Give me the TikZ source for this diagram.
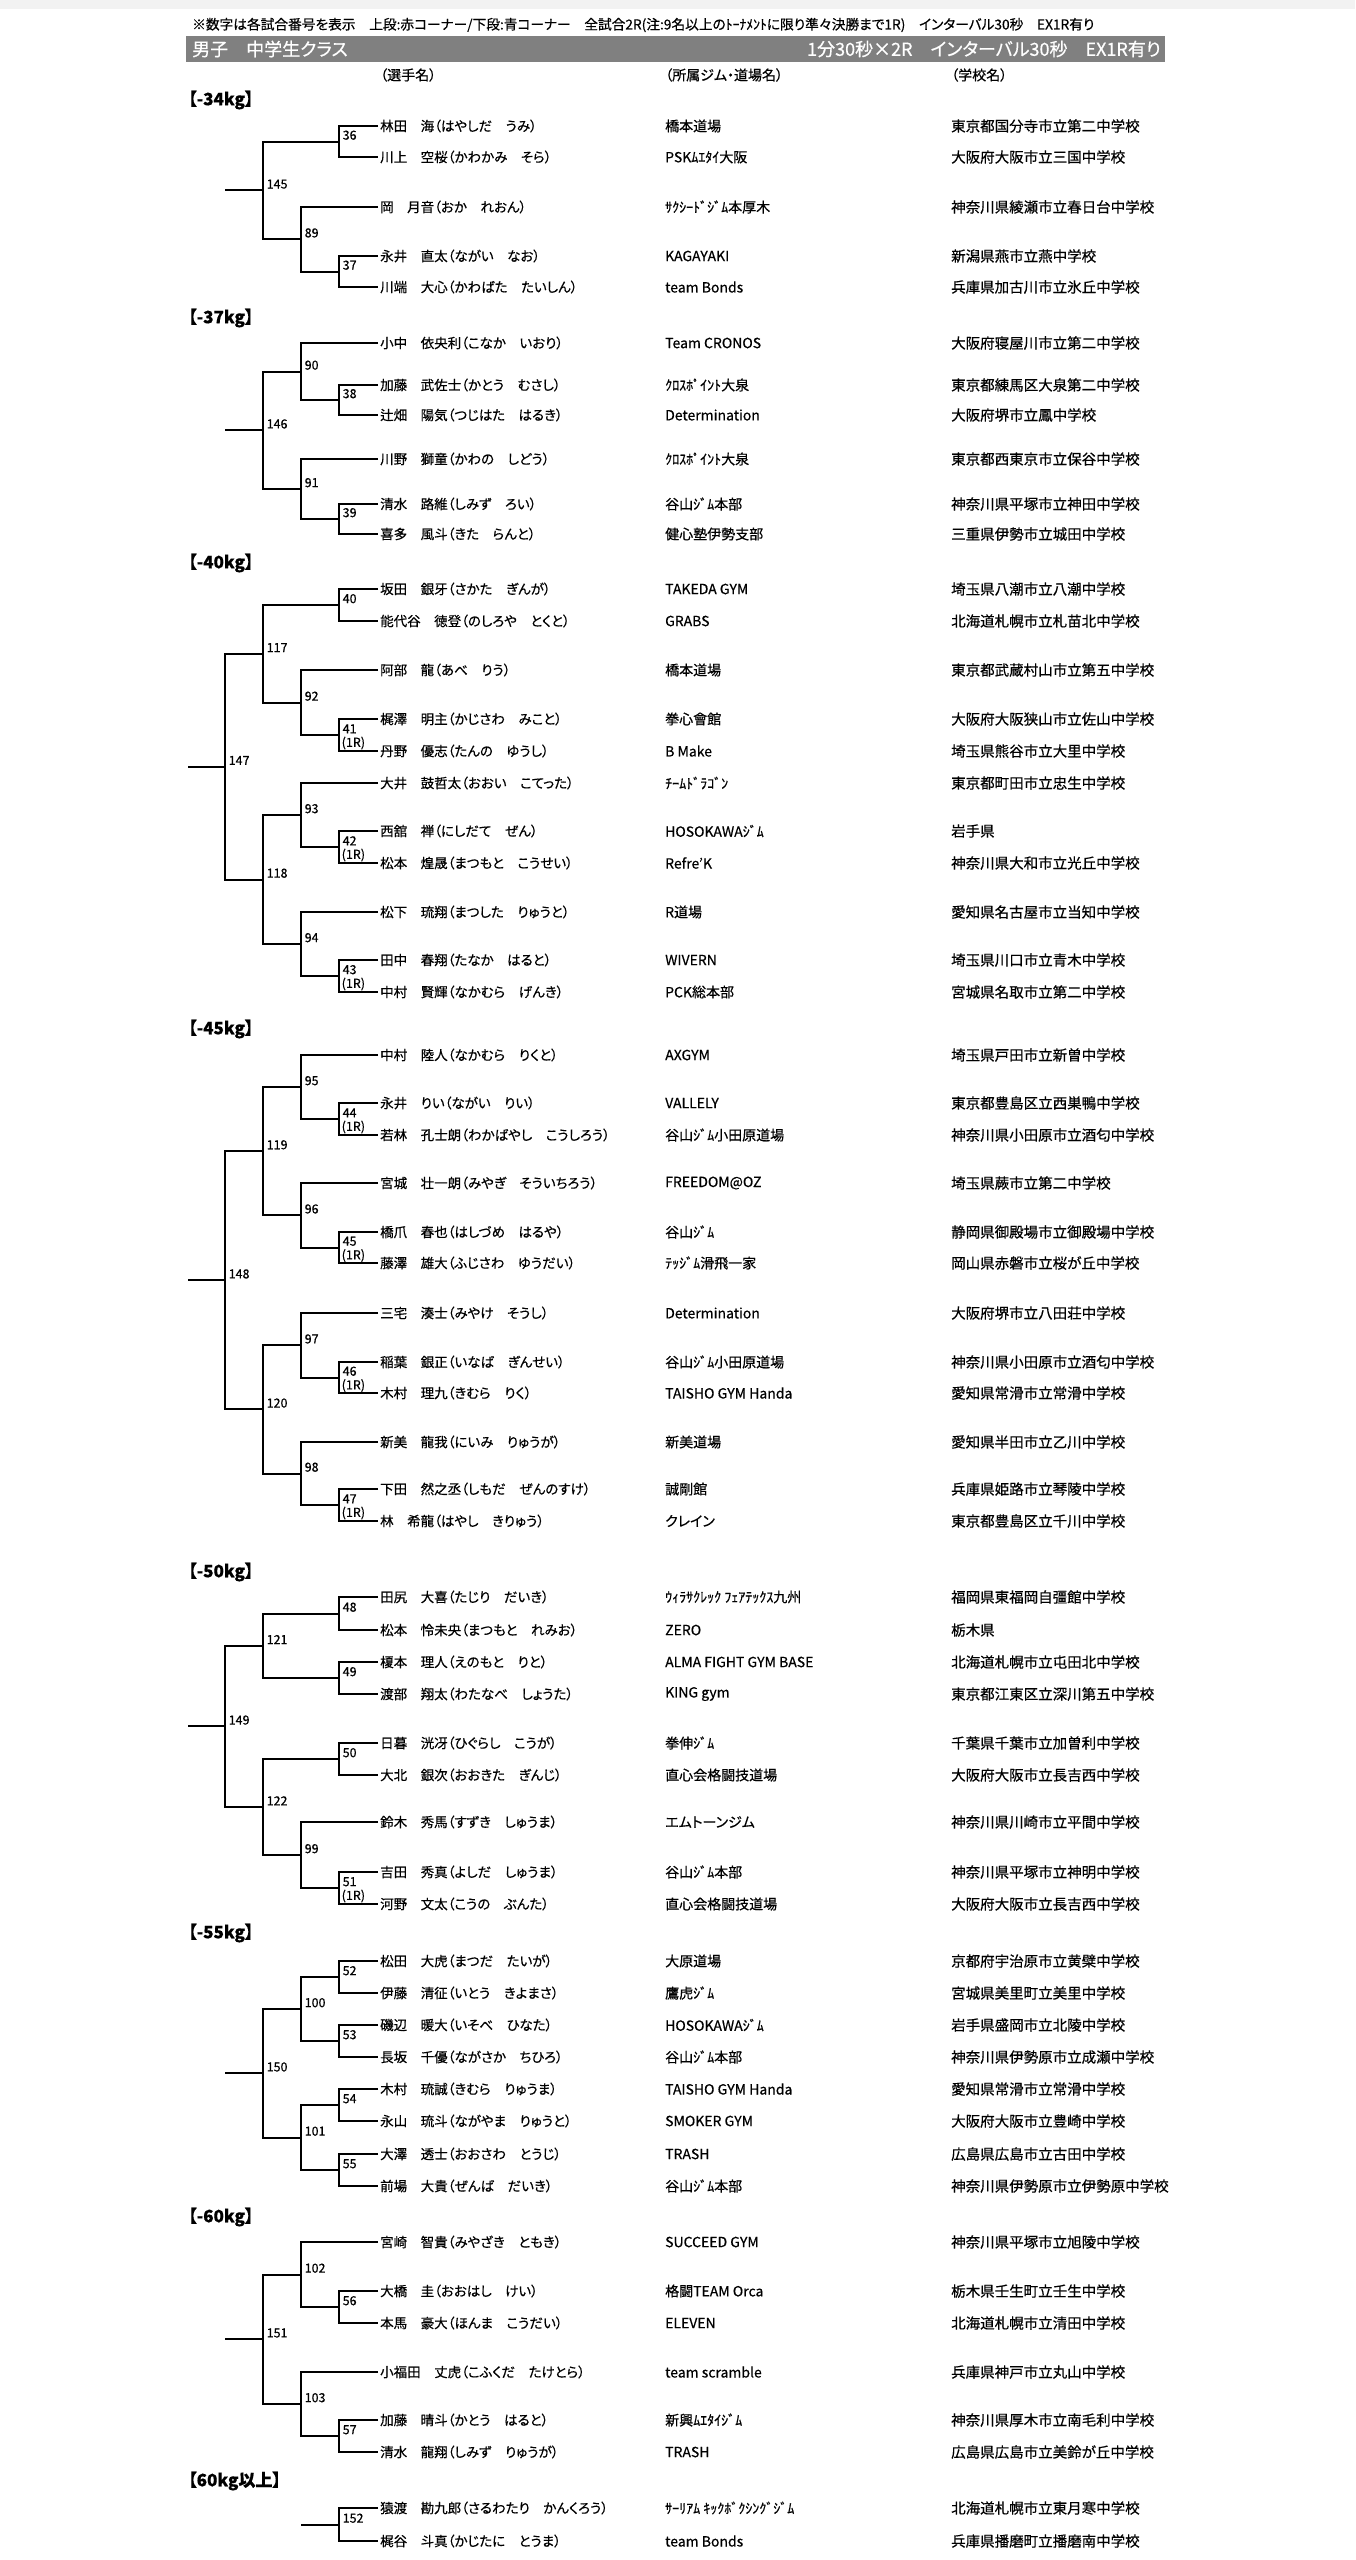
\documentclass[tikz,border=0pt]{standalone}
\usepackage{fontspec}
\setmainfont[RawFeature=+palt, FakeBold=0.5]{Noto Sans CJK JP}
\usetikzlibrary{calc}

% one row: player, gym, school
\newcommand{\entrant}[5]{%
  \node[player] (#1) at (378,#2) {#3};
  \node[gym] (#1g) at (665,#2) {#4};
  \node[school] (#1s) at (951,#2) {#5};
}
% one bout: id, top, bottom, level, number
\newcommand{\bout}[5]{%
  \path (#2) -- coordinate[midway] (#1c) (#3);
  \coordinate (#1) at (#1c -| #4);
  \draw[bracket] (#2) -| (#1) |- (#3);
  \node[boutno] (#1n) at (#1) {#5};
}
\newcommand{\oneR}[1]{\node[roundtag] (#1r) at (#1) {(1R)};}

\begin{document}
\begin{tikzpicture}[
x=1pt, y=-1pt,
player/.style={anchor=west, inner xsep=2pt, inner ysep=0pt, font=\fontsize{13.5}{15}\selectfont},
gym/.style={anchor=west, inner sep=0pt, font=\fontsize{14}{16}\selectfont},
school/.style={anchor=west, inner sep=0pt, font=\fontsize{14.5}{16}\selectfont},
bracket/.style={line width=2pt},
boutno/.style={anchor=south west, inner sep=1.5pt, xshift=2pt, font=\fontsize{12.5}{13}\selectfont},
roundtag/.style={anchor=north west, inner sep=1.5pt, xshift=1pt, font=\fontsize{12.5}{13}\selectfont},
classlabel/.style={anchor=west, inner sep=0pt, font=\bfseries\fontsize{17}{19}\selectfont},
colhead/.style={anchor=west, inner sep=0pt, font=\fontsize{14}{16}\selectfont},
titlebar/.style={fill=black!50, minimum width=979pt, minimum height=26pt, inner sep=0pt},
bartext/.style={text=white, inner sep=0pt, font=\fontsize{18}{20}\selectfont},
note/.style={anchor=west, inner sep=0pt, font=\fontsize{13.7}{15}\selectfont},
]
\useasboundingbox (0,0) rectangle (1355,2560);
\fill[black!5] (0,0) rectangle (1355,9);

%Header
\node[note] (note) at (192,25) {※数字は各試合番号を表示　上段:赤コーナー/下段:青コーナー　全試合2R(注:9名以上のﾄｰﾅﾒﾝﾄに限り準々決勝まで1R)　インターバル30秒　EX1R有り};
\node[titlebar] (bar) at (675.5,49) {};
\node[bartext, anchor=west] (bartitle) at (192,49) {男子　中学生クラス};
\node[bartext, anchor=east] (barrule) at (1161,49) {1分30秒×2R　インターバル30秒　EX1R有り};
\node[colhead] (hname) at (380,75) {（選手名）};
\node[colhead] (hgym) at (665,75) {（所属ジム・道場名）};
\node[colhead] (hschool) at (951,75) {（学校名）};

%Levels
\coordinate (lvA) at (339,0);
\coordinate (lvB) at (301,0);
\coordinate (lvC) at (263,0);
\coordinate (lvD) at (225,0);
\coordinate (lvE) at (188,0);

%-34kg
\node[classlabel] (k34) at (188,100) {【-34kg】};
\entrant{p1}{126}{林田　海（はやしだ　うみ）}{橋本道場}{東京都国分寺市立第二中学校}
\entrant{p2}{157}{川上　空桜（かわかみ　そら）}{PSKﾑｴﾀｲ大阪}{大阪府大阪市立三国中学校}
\entrant{p3}{207}{岡　月音（おか　れおん）}{ｻｸｼｰﾄﾞｼﾞﾑ本厚木}{神奈川県綾瀬市立春日台中学校}
\entrant{p4}{256}{永井　直太（ながい　なお）}{KAGAYAKI}{新潟県燕市立燕中学校}
\entrant{p5}{287}{川端　大心（かわばた　たいしん）}{team Bonds}{兵庫県加古川市立氷丘中学校}
\bout{m36}{p1.west}{p2.west}{lvA}{36}
\bout{m37}{p4.west}{p5.west}{lvA}{37}
\bout{m89}{p3.west}{m37}{lvB}{89}
\bout{m145}{m36}{m89}{lvC}{145}
\coordinate (w145) at (m145 -| lvD);
\draw[bracket] (m145) -- (w145);

%-37kg
\node[classlabel] (k37) at (188,318) {【-37kg】};
\entrant{p6}{343}{小中　依央利（こなか　いおり）}{Team CRONOS}{大阪府寝屋川市立第二中学校}
\entrant{p7}{385}{加藤　武佐士（かとう　むさし）}{ｸﾛｽﾎﾟｲﾝﾄ大泉}{東京都練馬区大泉第二中学校}
\entrant{p8}{415}{辻畑　陽気（つじはた　はるき）}{Determination}{大阪府堺市立鳳中学校}
\entrant{p9}{459}{川野　獅童（かわの　しどう）}{ｸﾛｽﾎﾟｲﾝﾄ大泉}{東京都西東京市立保谷中学校}
\entrant{p10}{504}{清水　路維（しみず　ろい）}{谷山ｼﾞﾑ本部}{神奈川県平塚市立神田中学校}
\entrant{p11}{534}{喜多　風斗（きた　らんと）}{健心塾伊勢支部}{三重県伊勢市立城田中学校}
\bout{m38}{p7.west}{p8.west}{lvA}{38}
\bout{m90}{p6.west}{m38}{lvB}{90}
\bout{m39}{p10.west}{p11.west}{lvA}{39}
\bout{m91}{p9.west}{m39}{lvB}{91}
\bout{m146}{m90}{m91}{lvC}{146}
\coordinate (w146) at (m146 -| lvD);
\draw[bracket] (m146) -- (w146);

%-40kg
\node[classlabel] (k40) at (188,563) {【-40kg】};
\entrant{p12}{589}{坂田　銀牙（さかた　ぎんが）}{TAKEDA GYM}{埼玉県八潮市立八潮中学校}
\entrant{p13}{621}{能代谷　徳登（のしろや　とくと）}{GRABS}{北海道札幌市立札苗北中学校}
\entrant{p14}{670}{阿部　龍（あべ　りう）}{橋本道場}{東京都武蔵村山市立第五中学校}
\entrant{p15}{719}{梶澤　明主（かじさわ　みこと）}{拳心會館}{大阪府大阪狭山市立佐山中学校}
\entrant{p16}{751}{丹野　優志（たんの　ゆうし）}{B Make}{埼玉県熊谷市立大里中学校}
\entrant{p17}{783}{大井　鼓哲太（おおい　こてった）}{ﾁｰﾑﾄﾞﾗｺﾞﾝ}{東京都町田市立忠生中学校}
\entrant{p18}{831}{西舘　禅（にしだて　ぜん）}{HOSOKAWAｼﾞﾑ}{岩手県}
\entrant{p19}{863}{松本　煌晟（まつもと　こうせい）}{Refre’K}{神奈川県大和市立光丘中学校}
\entrant{p20}{912}{松下　琉翔（まつした　りゅうと）}{R道場}{愛知県名古屋市立当知中学校}
\entrant{p21}{960}{田中　春翔（たなか　はると）}{WIVERN}{埼玉県川口市立青木中学校}
\entrant{p22}{992}{中村　賢輝（なかむら　げんき）}{PCK総本部}{宮城県名取市立第二中学校}
\bout{m40}{p12.west}{p13.west}{lvA}{40}
\bout{m41}{p15.west}{p16.west}{lvA}{41} \oneR{m41}
\bout{m92}{p14.west}{m41}{lvB}{92}
\bout{m117}{m40}{m92}{lvC}{117}
\bout{m42}{p18.west}{p19.west}{lvA}{42} \oneR{m42}
\bout{m93}{p17.west}{m42}{lvB}{93}
\bout{m43}{p21.west}{p22.west}{lvA}{43} \oneR{m43}
\bout{m94}{p20.west}{m43}{lvB}{94}
\bout{m118}{m93}{m94}{lvC}{118}
\bout{m147}{m117}{m118}{lvD}{147}
\coordinate (w147) at (m147 -| lvE);
\draw[bracket] (m147) -- (w147);

%-45kg
\node[classlabel] (k45) at (188,1029) {【-45kg】};
\entrant{p23}{1055}{中村　陸人（なかむら　りくと）}{AXGYM}{埼玉県戸田市立新曽中学校}
\entrant{p24}{1103}{永井　りい（ながい　りい）}{VALLELY}{東京都豊島区立西巣鴨中学校}
\entrant{p25}{1135}{若林　孔士朗（わかばやし　こうしろう）}{谷山ｼﾞﾑ小田原道場}{神奈川県小田原市立酒匂中学校}
\entrant{p26}{1183}{宮城　壮一朗（みやぎ　そういちろう）}{FREEDOM@OZ}{埼玉県蕨市立第二中学校}
\entrant{p27}{1232}{橋爪　春也（はしづめ　はるや）}{谷山ｼﾞﾑ}{静岡県御殿場市立御殿場中学校}
\entrant{p28}{1263}{藤澤　雄大（ふじさわ　ゆうだい）}{ﾃｯｼﾞﾑ滑飛一家}{岡山県赤磐市立桜が丘中学校}
\entrant{p29}{1313}{三宅　湊士（みやけ　そうし）}{Determination}{大阪府堺市立八田荘中学校}
\entrant{p30}{1362}{稲葉　銀正（いなば　ぎんせい）}{谷山ｼﾞﾑ小田原道場}{神奈川県小田原市立酒匂中学校}
\entrant{p31}{1393}{木村　理九（きむら　りく）}{TAISHO GYM Handa}{愛知県常滑市立常滑中学校}
\entrant{p32}{1442}{新美　龍我（にいみ　りゅうが）}{新美道場}{愛知県半田市立乙川中学校}
\entrant{p33}{1489}{下田　然之丞（しもだ　ぜんのすけ）}{誠剛館}{兵庫県姫路市立琴陵中学校}
\entrant{p34}{1521}{林　希龍（はやし　きりゅう）}{クレイン}{東京都豊島区立千川中学校}
\bout{m44}{p24.west}{p25.west}{lvA}{44} \oneR{m44}
\bout{m95}{p23.west}{m44}{lvB}{95}
\bout{m45}{p27.west}{p28.west}{lvA}{45} \oneR{m45}
\bout{m96}{p26.west}{m45}{lvB}{96}
\bout{m119}{m95}{m96}{lvC}{119}
\bout{m46}{p30.west}{p31.west}{lvA}{46} \oneR{m46}
\bout{m97}{p29.west}{m46}{lvB}{97}
\bout{m47}{p33.west}{p34.west}{lvA}{47} \oneR{m47}
\bout{m98}{p32.west}{m47}{lvB}{98}
\bout{m120}{m97}{m98}{lvC}{120}
\bout{m148}{m119}{m120}{lvD}{148}
\coordinate (w148) at (m148 -| lvE);
\draw[bracket] (m148) -- (w148);

%-50kg
\node[classlabel] (k50) at (188,1572) {【-50kg】};
\entrant{p35}{1597}{田尻　大喜（たじり　だいき）}{ｳｨﾗｻｸﾚｯｸ ﾌｪｱﾃｯｸｽ九州}{福岡県東福岡自彊館中学校}
\entrant{p36}{1630}{松本　怜未央（まつもと　れみお）}{ZERO}{栃木県}
\entrant{p37}{1662}{榎本　理人（えのもと　りと）}{ALMA FIGHT GYM BASE}{北海道札幌市立屯田北中学校}
\entrant{p38}{1694}{渡部　翔太（わたなべ　しょうた）}{KING gym}{東京都江東区立深川第五中学校}
\entrant{p39}{1743}{日暮　洸冴（ひぐらし　こうが）}{拳伸ｼﾞﾑ}{千葉県千葉市立加曽利中学校}
\entrant{p40}{1775}{大北　銀次（おおきた　ぎんじ）}{直心会格闘技道場}{大阪府大阪市立長吉西中学校}
\entrant{p41}{1822}{鈴木　秀馬（すずき　しゅうま）}{エムトーンジム}{神奈川県川崎市立平間中学校}
\entrant{p42}{1872}{吉田　秀真（よしだ　しゅうま）}{谷山ｼﾞﾑ本部}{神奈川県平塚市立神明中学校}
\entrant{p43}{1904}{河野　文太（こうの　ぶんた）}{直心会格闘技道場}{大阪府大阪市立長吉西中学校}
\bout{m48}{p35.west}{p36.west}{lvA}{48}
\bout{m49}{p37.west}{p38.west}{lvA}{49}
\bout{m121}{m48}{m49}{lvC}{121}
\bout{m50}{p39.west}{p40.west}{lvA}{50}
\bout{m51}{p42.west}{p43.west}{lvA}{51} \oneR{m51}
\bout{m99}{p41.west}{m51}{lvB}{99}
\bout{m122}{m50}{m99}{lvC}{122}
\bout{m149}{m121}{m122}{lvD}{149}
\coordinate (w149) at (m149 -| lvE);
\draw[bracket] (m149) -- (w149);

%-55kg
\node[classlabel] (k55) at (188,1933) {【-55kg】};
\entrant{p44}{1961}{松田　大虎（まつだ　たいが）}{大原道場}{京都府宇治原市立黄檗中学校}
\entrant{p45}{1993}{伊藤　清征（いとう　きよまさ）}{鷹虎ｼﾞﾑ}{宮城県美里町立美里中学校}
\entrant{p46}{2025}{磯辺　暖大（いそべ　ひなた）}{HOSOKAWAｼﾞﾑ}{岩手県盛岡市立北陵中学校}
\entrant{p47}{2057}{長坂　千優（ながさか　ちひろ）}{谷山ｼﾞﾑ本部}{神奈川県伊勢原市立成瀬中学校}
\entrant{p48}{2089}{木村　琉誠（きむら　りゅうま）}{TAISHO GYM Handa}{愛知県常滑市立常滑中学校}
\entrant{p49}{2121}{永山　琉斗（ながやま　りゅうと）}{SMOKER GYM}{大阪府大阪市立豊崎中学校}
\entrant{p50}{2154}{大澤　透士（おおさわ　とうじ）}{TRASH}{広島県広島市立古田中学校}
\entrant{p51}{2186}{前場　大貴（ぜんば　だいき）}{谷山ｼﾞﾑ本部}{神奈川県伊勢原市立伊勢原中学校}
\bout{m52}{p44.west}{p45.west}{lvA}{52}
\bout{m53}{p46.west}{p47.west}{lvA}{53}
\bout{m100}{m52}{m53}{lvB}{100}
\bout{m54}{p48.west}{p49.west}{lvA}{54}
\bout{m55}{p50.west}{p51.west}{lvA}{55}
\bout{m101}{m54}{m55}{lvB}{101}
\bout{m150}{m100}{m101}{lvC}{150}
\coordinate (w150) at (m150 -| lvD);
\draw[bracket] (m150) -- (w150);

%-60kg
\node[classlabel] (k60) at (188,2217) {【-60kg】};
\entrant{p52}{2242}{宮崎　智貴（みやざき　ともき）}{SUCCEED GYM}{神奈川県平塚市立旭陵中学校}
\entrant{p53}{2291}{大橋　圭（おおはし　けい）}{格闘TEAM Orca}{栃木県壬生町立壬生中学校}
\entrant{p54}{2323}{本馬　豪大（ほんま　こうだい）}{ELEVEN}{北海道札幌市立清田中学校}
\entrant{p55}{2372}{小福田　丈虎（こふくだ　たけとら）}{team scramble}{兵庫県神戸市立丸山中学校}
\entrant{p56}{2420}{加藤　晴斗（かとう　はると）}{新興ﾑｴﾀｲｼﾞﾑ}{神奈川県厚木市立南毛利中学校}
\entrant{p57}{2452}{清水　龍翔（しみず　りゅうが）}{TRASH}{広島県広島市立美鈴が丘中学校}
\bout{m56}{p53.west}{p54.west}{lvA}{56}
\bout{m102}{p52.west}{m56}{lvB}{102}
\bout{m57}{p56.west}{p57.west}{lvA}{57}
\bout{m103}{p55.west}{m57}{lvB}{103}
\bout{m151}{m102}{m103}{lvC}{151}
\coordinate (w151) at (m151 -| lvD);
\draw[bracket] (m151) -- (w151);

%60kg over
\node[classlabel] (k60up) at (188,2481) {【60kg以上】};
\entrant{p58}{2508}{猿渡　勘九郎（さるわたり　かんくろう）}{ｻｰﾘｱﾑ ｷｯｸﾎﾞｸｼﾝｸﾞｼﾞﾑ}{北海道札幌市立東月寒中学校}
\entrant{p59}{2541}{梶谷　斗真（かじたに　とうま）}{team Bonds}{兵庫県播磨町立播磨南中学校}
\bout{m152}{p58.west}{p59.west}{lvA}{152}
\coordinate (w152) at (m152 -| lvB);
\draw[bracket] (m152) -- (w152);
\end{tikzpicture}
\end{document}
